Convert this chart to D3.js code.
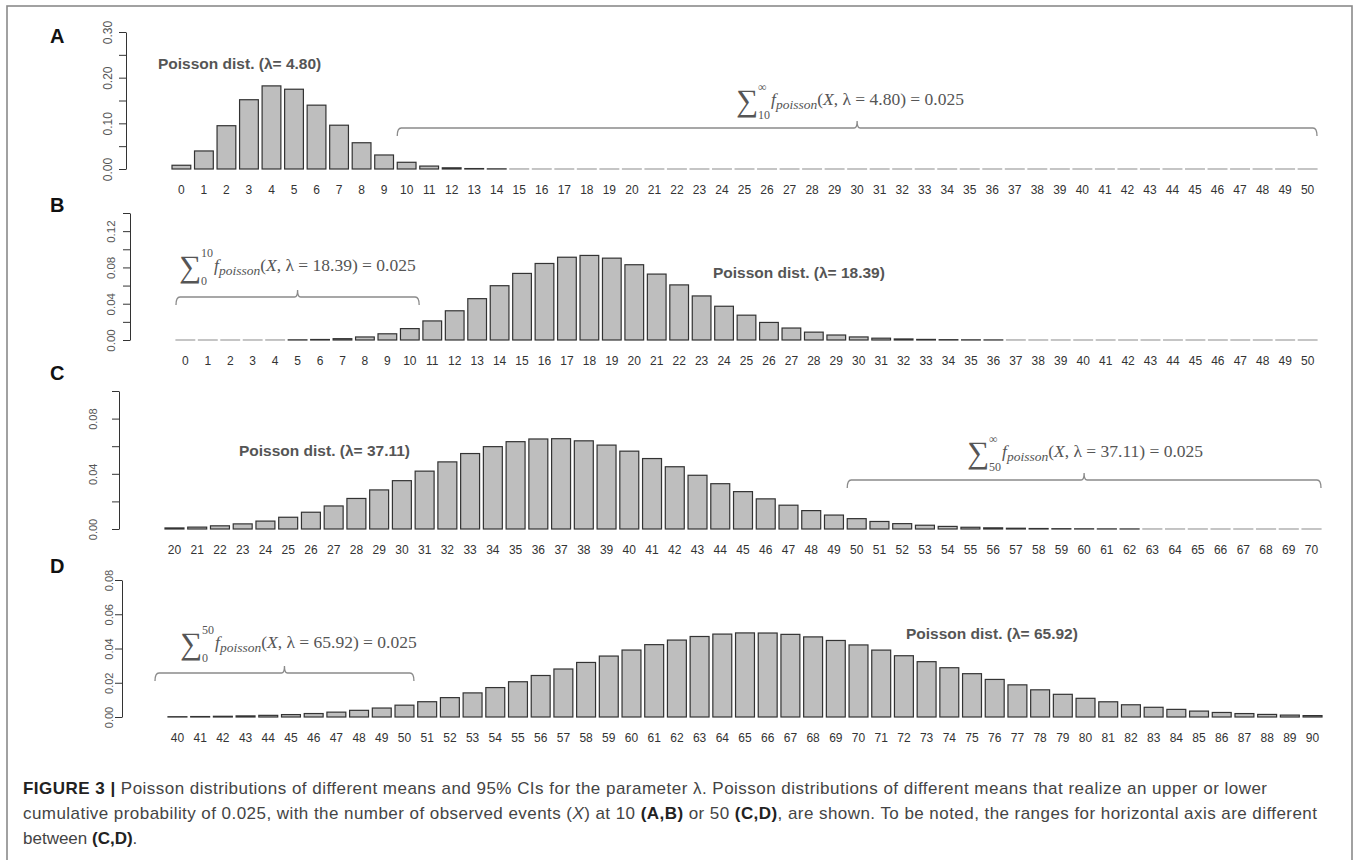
<!DOCTYPE html>
<html>
<head>
<meta charset="utf-8">
<script src="https://cdn.jsdelivr.net/npm/d3@7"></script>
<style>
  body { margin: 0; background: #fff; }
  svg { display: block; font-family: Arial, "Liberation Sans", Helvetica, sans-serif; }
  text { white-space: pre; }
</style>
</head>
<body>
<svg id="fig" width="1357" height="860"></svg>
<script>
// ---- data ----
const catsA = d3.range(0, 51);
const catsB = d3.range(0, 51);
const catsC = d3.range(20, 71);
const catsD = d3.range(40, 91);

// A: lambda 4.80, X = 0..50
const valuesA = [0.0082, 0.0395, 0.0948, 0.1517, 0.1820, 0.1747, 0.1398, 0.0959, 0.0575, 0.0307,
  0.0147, 0.0064, 0.0026, 0.00095, 0.00033, 0.00010, 0.00003, 0.00001, 0, 0,
  0, 0, 0, 0, 0, 0, 0, 0, 0, 0,
  0, 0, 0, 0, 0, 0, 0, 0, 0, 0,
  0, 0, 0, 0, 0, 0, 0, 0, 0, 0, 0];
// B: lambda 18.39, X = 0..50
const valuesB = [0, 0, 0.0000017, 0.0000107, 0.000049, 0.000181, 0.000554, 0.001455, 0.003346, 0.006836,
  0.01257, 0.02102, 0.03221, 0.04557, 0.05986, 0.07339, 0.08435, 0.09124, 0.09322, 0.09023,
  0.08297, 0.07266, 0.06074, 0.04857, 0.03721, 0.02737, 0.01936, 0.01319, 0.00866, 0.00549,
  0.003366, 0.001997, 0.001148, 0.000640, 0.000346, 0.000182, 0.000093, 0.000046, 0.000022, 0.000011,
  0.000005, 0.000002, 0.000001, 0, 0, 0, 0, 0, 0, 0, 0];
// C: lambda 37.11, X = 20..70
const valuesC = [0.00077, 0.00136, 0.00230, 0.00371, 0.00573, 0.00851, 0.01215, 0.01670, 0.02213, 0.02832,
  0.03503, 0.04193, 0.04863, 0.05468, 0.05968, 0.06328, 0.06523, 0.06543, 0.06389, 0.06080,
  0.05641, 0.05105, 0.04511, 0.03893, 0.03283, 0.02708, 0.02184, 0.01725, 0.01333, 0.01010,
  0.00750, 0.00545, 0.00389, 0.00273, 0.00187, 0.00126, 0.00084, 0.00055, 0.00035, 0.00022,
  0.00014, 0.000083, 0.000049, 0.000029, 0.000017, 0.0000096, 0.0000054, 0.000003, 0.0000016, 0.0000009, 0.0000005];
// D: lambda 65.92, X = 40..90
const valuesD = [0.000166, 0.000267, 0.000419, 0.000643, 0.000963, 0.001410, 0.002021, 0.002835, 0.003893, 0.005237,
  0.006904, 0.008924, 0.011313, 0.014071, 0.017177, 0.020587, 0.024234, 0.028026, 0.031853, 0.035589,
  0.039100, 0.042254, 0.044925, 0.047007, 0.048417, 0.049102, 0.049042, 0.048252, 0.046776, 0.044688,
  0.042083, 0.039072, 0.035773, 0.032303, 0.028776, 0.025292, 0.021937, 0.018780, 0.015872, 0.013244,
  0.010913, 0.008881, 0.007139, 0.005670, 0.004450, 0.003451, 0.002645, 0.002004, 0.001501, 0.001112, 0.000814];

const yTicksA = [0, 0.05, 0.10, 0.15, 0.20, 0.25, 0.30];
const yLabelsA = [0, 0.10, 0.20, 0.30];
const yTicksB = [0, 0.02, 0.04, 0.06, 0.08, 0.10, 0.12, 0.14];
const yLabelsB = [0, 0.04, 0.08, 0.12];
const yTicksC = [0, 0.02, 0.04, 0.06, 0.08, 0.10];
const yLabelsC = [0, 0.04, 0.08];
const yTicksD = [0, 0.02, 0.04, 0.06, 0.08];
const yLabelsD = [0, 0.02, 0.04, 0.06, 0.08];

const lambdas = ["4.80", "18.39", "37.11", "65.92"];
const sumFrom = ["10", "0", "50", "0"];
const sumTo = ["\u221E", "10", "\u221E", "50"];
const bracketSpans = [[10, 50], [0, 10], [50, 70], [0, 50]];

const captionLines = [
  [{t: "FIGURE 3 |", b: true}, {t: " Poisson distributions of different means and 95% CIs for the parameter \u03BB. Poisson distributions of different means that realize an upper or lower"}],
  [{t: "cumulative probability of 0.025, with the number of observed events ("}, {t: "X", i: true}, {t: ") at 10 "}, {t: "(A,B)", b: true}, {t: " or 50 "}, {t: "(C,D)", b: true}, {t: ", are shown. To be noted, the ranges for horizontal axis are different"}],
  [{t: "between "}, {t: "(C,D)", b: true}, {t: "."}]
];

// ---- layout ----
const panels = [
  {id: "A", cats: catsA, vals: valuesA, ticks: yTicksA, labels: yLabelsA,
   axisX: 126, y0: 169, yTop: 32, x0: 172, x1: 1317, labOff: 18, labSize: 12,
   letterY: 43, title: [158, 69], formula: [737, 100], bracketY: 128},
  {id: "B", cats: catsB, vals: valuesB, ticks: yTicksB, labels: yLabelsB,
   axisX: 130, y0: 340, yTop: 213, x0: 176, x1: 1317, labOff: 19, labSize: 11.5,
   letterY: 212, title: [713, 278], formula: [180, 266], bracketY: 297},
  {id: "C", cats: catsC, vals: valuesC, ticks: yTicksC, labels: yLabelsC,
   axisX: 119, y0: 529, yTop: 391, x0: 165, x1: 1321, labOff: 26, labSize: 11,
   letterY: 380, title: [239, 456], formula: [968, 452], bracketY: 480},
  {id: "D", cats: catsD, vals: valuesD, ticks: yTicksD, labels: yLabelsD,
   axisX: 122, y0: 717, yTop: 580, x0: 168, x1: 1322, labOff: 13, labSize: 11,
   letterY: 573, title: [906, 639], formula: [181, 643], bracketY: 673}
];

const svg = d3.select("#fig");

svg.append("rect")
  .attr("x", 7).attr("y", 6).attr("width", 1345).attr("height", 900)
  .attr("fill", "none").attr("stroke", "#8a8a8a").attr("stroke-width", 1.6);

panels.forEach((p, k) => {
  const g = svg.append("g");
  const x = d3.scaleBand().domain(p.cats).range([p.x0, p.x1])
    .paddingInner(0.2 / 1.2).paddingOuter(0);
  const y = d3.scaleLinear().domain([0, p.ticks[p.ticks.length - 1]]).range([p.y0, p.yTop]);

  // bars
  g.selectAll("rect.bar")
    .data(p.cats.map((c, i) => ({c, v: p.vals[i]})))
    .join("rect")
      .attr("class", "bar")
      .attr("x", d => x(d.c))
      .attr("width", x.bandwidth())
      .attr("y", d => y(d.v))
      .attr("height", d => Math.max(y(0) - y(d.v), 0.01))
      .attr("fill", "#bebebe")
      .attr("stroke", d => (y(0) - y(d.v) < 0.055 ? "#a0a0a0" : "#333"))
      .attr("stroke-width", 1.2);

  // x labels under each bar
  g.append("g")
    .attr("transform", `translate(0,${p.y0})`)
    .call(d3.axisBottom(x).tickSize(0))
    .call(a => a.select(".domain").remove())
    .call(a => a.selectAll("text")
      .attr("y", 21).attr("dy", "0.35em")
      .attr("font-size", 12).attr("fill", "#333")
      .style("font-family", "Arial, 'Liberation Sans', sans-serif"));

  // y axis, R style: rotated labels
  const isLab = d => p.labels.some(l => Math.abs(l - d) < 1e-9);
  g.append("g")
    .attr("transform", `translate(${p.axisX},0)`)
    .call(d3.axisLeft(y).tickValues(p.ticks).tickSize(7).tickSizeOuter(0)
      .tickFormat(d => isLab(d) ? d3.format(".2f")(d) : ""))
    .call(a => a.select(".domain").attr("stroke", "#333"))
    .call(a => a.selectAll(".tick line").attr("stroke", "#333"))
    .call(a => a.selectAll(".tick text")
      .attr("x", 0).attr("dy", null)
      .attr("text-anchor", "middle")
      .attr("dominant-baseline", "central")
      .attr("transform", `translate(${-p.labOff},0) rotate(-90)`)
      .attr("font-size", p.labSize).attr("fill", "#555")
      .style("font-family", "Arial, 'Liberation Sans', sans-serif"));

  // panel letter
  g.append("text").attr("x", 50).attr("y", p.letterY)
    .attr("font-size", 20).attr("font-weight", "bold").attr("fill", "#111")
    .text(p.id);

  // title
  g.append("text").attr("x", p.title[0]).attr("y", p.title[1])
    .attr("font-size", 15.5).attr("font-weight", "bold").attr("fill", "#555")
    .text(`Poisson dist. (\u03BB= ${lambdas[k]})`);

  // bracket
  const [bf, bt] = bracketSpans[k];
  const xl = x(bf) !== undefined ? x(bf) : p.x0 - 13;
  const xr = x(bt) + x.bandwidth();
  const xm = (xl + xr) / 2, by = p.bracketY, e = 8, n = 7;
  g.append("path")
    .attr("d", `M${xl},${by + e} Q${xl},${by} ${xl + 4},${by} L${xm - 3},${by} Q${xm},${by} ${xm},${by - n} ` +
               `Q${xm},${by} ${xm + 3},${by} L${xr - 4},${by} Q${xr},${by} ${xr},${by + e}`)
    .attr("fill", "none").attr("stroke", "#8a8a8a").attr("stroke-width", 1.3);

  // sum formula
  const [fx, fy] = p.formula;
  const f = g.append("g").attr("fill", "#555")
    .style("font-family", "'Liberation Serif', 'Times New Roman', serif");
  f.append("text").attr("x", fx - 1).attr("y", fy + 11).attr("font-size", 31).text("\u2211");
  f.append("text").attr("x", fx + 21).attr("y", fy - 9).attr("font-size", 12).text(sumTo[k]);
  f.append("text").attr("x", fx + 21).attr("y", fy + 19).attr("font-size", 12).text(sumFrom[k]);
  const m = f.append("text").attr("x", fx + 34).attr("y", fy + 5).attr("font-size", 17.5);
  m.append("tspan").attr("font-style", "italic").text("f");
  m.append("tspan").attr("font-style", "italic").attr("font-size", 13.5).attr("dy", 4).text("poisson");
  m.append("tspan").attr("dy", -4).text("(");
  m.append("tspan").attr("font-style", "italic").text("X");
  m.append("tspan").text(`, \u03BB = ${lambdas[k]}) = 0.025`);
});

// caption
const capWidths = [1244, 1294, null];
const cap = svg.append("g").attr("fill", "#444").attr("font-size", 17);
captionLines.forEach((line, i) => {
  const t = cap.append("text").attr("x", 23).attr("y", 794 + i * 25);
  if (capWidths[i]) t.attr("textLength", capWidths[i]).attr("lengthAdjust", "spacing");
  line.forEach(s => {
    t.append("tspan")
      .attr("font-weight", s.b ? "bold" : null)
      .attr("font-style", s.i ? "italic" : null)
      .attr("fill", s.b ? "#222" : null)
      .text(s.t);
  });
});
</script>
</body>
</html>
